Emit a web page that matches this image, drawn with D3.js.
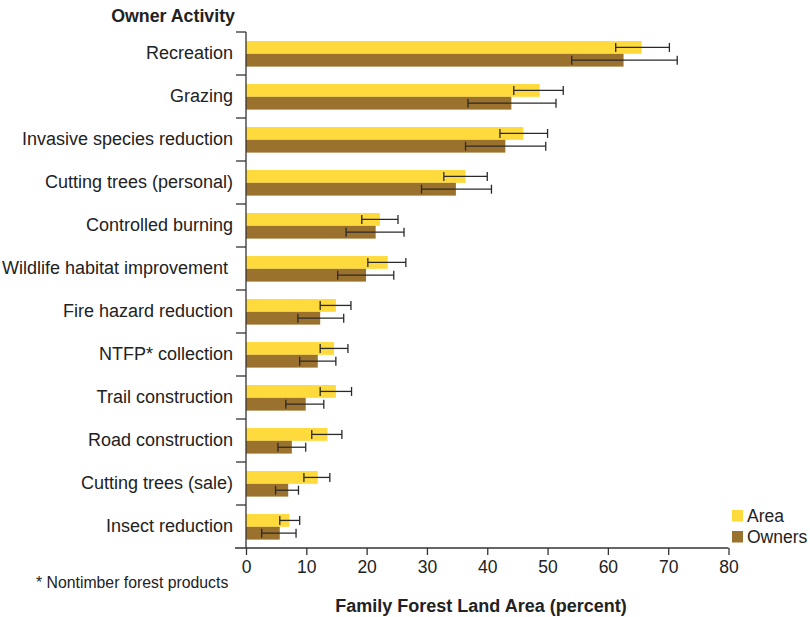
<!DOCTYPE html>
<html>
<head>
<meta charset="utf-8">
<script src="https://cdn.jsdelivr.net/npm/d3@7"></script>
<style>
  html, body { margin: 0; padding: 0; background: #fff; }
  svg { display: block; font-family: "Liberation Sans", Arial, Helvetica, sans-serif; }
</style>
</head>
<body>
<svg id="chart" width="810" height="617"></svg>
<script>
const categories = [
  "Recreation", "Grazing", "Invasive species reduction", "Cutting trees (personal)",
  "Controlled burning", "Wildlife habitat improvement ", "Fire hazard reduction",
  "NTFP* collection", "Trail construction", "Road construction",
  "Cutting trees (sale)", "Insect reduction"
];
const seriesNames = ["Area", "Owners"];
const areaValues   = [65.6, 48.7, 46.0, 36.4, 22.2, 23.5, 14.9, 14.6, 14.9, 13.5, 11.9, 7.2];
const areaLow      = [61.3, 44.4, 42.1, 32.8, 19.2, 20.2, 12.3, 12.3, 12.3, 10.9,  9.6, 5.6];
const areaHigh     = [70.2, 52.6, 50.0, 40.0, 25.2, 26.5, 17.4, 16.9, 17.5, 15.9, 13.9, 8.9];
const ownerValues  = [62.6, 44.0, 43.0, 34.8, 21.5, 19.9, 12.3, 11.9,  9.9,  7.6,  7.0, 5.6];
const ownerLow     = [54.0, 36.8, 36.4, 29.1, 16.6, 15.2,  8.6,  8.9,  6.6,  5.3,  4.9, 2.6];
const ownerHigh    = [71.5, 51.4, 49.7, 40.7, 26.2, 24.5, 16.2, 14.9, 12.9,  9.9,  8.7, 8.3];
const xTicks = [0, 10, 20, 30, 40, 50, 60, 70, 80];
const colors = ["#FEDA3D", "#9B722D"];

const rows = categories.map((c, i) => ({
  cat: c,
  vals: [
    { s: "Area", v: areaValues[i], lo: areaLow[i], hi: areaHigh[i] },
    { s: "Owners", v: ownerValues[i], lo: ownerLow[i], hi: ownerHigh[i] }
  ]
}));

const svg = d3.select("#chart");
const mLeft = 246, mRight = 728.5, mTop = 32, mBottom = 548;

const x = d3.scaleLinear().domain([0, 80]).range([mLeft, mRight]);
const y = d3.scaleBand().domain(categories).range([mTop, mBottom]).padding(0);
const bw = y.bandwidth();
const y1 = d3.scaleBand().domain(seriesNames).range([bw * 0.21, bw * 0.805]).padding(0);
const color = d3.scaleOrdinal().domain(seriesNames).range(colors);

// bars
const g = svg.append("g");
const groups = g.selectAll("g.cat").data(rows).join("g")
  .attr("class", "cat")
  .attr("transform", d => `translate(0,${y(d.cat)})`);

groups.selectAll("rect").data(d => d.vals).join("rect")
  .attr("x", x(0))
  .attr("y", d => y1(d.s))
  .attr("width", d => x(d.v) - x(0))
  .attr("height", y1.bandwidth())
  .attr("fill", d => color(d.s));

// error bars
const eb = groups.selectAll("g.err").data(d => d.vals).join("g").attr("class", "err")
  .attr("stroke", "#2a2a2a").attr("stroke-width", 1.3);
const capH = 4.5;
eb.append("line")
  .attr("x1", d => x(d.lo)).attr("x2", d => x(d.hi))
  .attr("y1", d => y1(d.s) + y1.bandwidth() / 2).attr("y2", d => y1(d.s) + y1.bandwidth() / 2);
eb.append("line")
  .attr("x1", d => x(d.lo)).attr("x2", d => x(d.lo))
  .attr("y1", d => y1(d.s) + y1.bandwidth() / 2 - capH).attr("y2", d => y1(d.s) + y1.bandwidth() / 2 + capH);
eb.append("line")
  .attr("x1", d => x(d.hi)).attr("x2", d => x(d.hi))
  .attr("y1", d => y1(d.s) + y1.bandwidth() / 2 - capH).attr("y2", d => y1(d.s) + y1.bandwidth() / 2 + capH);

// x axis
const xAxis = d3.axisBottom(x).tickValues(xTicks).tickSize(7).tickSizeOuter(0).tickPadding(6);
const xg = svg.append("g").attr("transform", `translate(0,${mBottom})`).call(xAxis);
xg.select(".domain").remove();
xg.append("line").attr("x1", mLeft - 11).attr("x2", mRight).attr("y1", 0).attr("y2", 0)
  .attr("stroke", "#333").attr("stroke-width", 1.3);
xg.selectAll(".tick line").attr("stroke", "#333").attr("stroke-width", 1.3);
xg.selectAll(".tick text").attr("fill", "#222").style("font-size", "17.5px")
  .style("font-family", "'Liberation Sans', Arial, sans-serif");

// y axis: labels at band centers, ticks at band boundaries
const yAxis = d3.axisLeft(y).tickSize(0).tickPadding(13);
const yg = svg.append("g").attr("transform", `translate(${mLeft},0)`).call(yAxis);
yg.select(".domain").remove();
yg.selectAll(".tick text").attr("fill", "#222").style("font-size", "18px")
  .style("white-space", "pre")
  .style("font-family", "'Liberation Sans', Arial, sans-serif");
yg.append("line").attr("x1", 0).attr("x2", 0).attr("y1", mTop).attr("y2", mBottom)
  .attr("stroke", "#333").attr("stroke-width", 1.3);
const boundaries = categories.map(c => y(c));
yg.selectAll("line.bt").data(boundaries).join("line").attr("class", "bt")
  .attr("x1", -10).attr("x2", 0).attr("y1", d => d).attr("y2", d => d)
  .attr("stroke", "#333").attr("stroke-width", 1.3);

// titles
svg.append("text").attr("x", 235).attr("y", 22).attr("text-anchor", "end")
  .attr("fill", "#222").style("font-size", "17.8px").style("font-weight", "bold")
  .text("Owner Activity");
svg.append("text").attr("x", 481).attr("y", 612).attr("text-anchor", "middle")
  .attr("fill", "#222").style("font-size", "18px").style("font-weight", "bold")
  .text("Family Forest Land Area (percent)");
svg.append("text").attr("x", 36).attr("y", 588)
  .attr("fill", "#222").style("font-size", "15.8px")
  .text("* Nontimber forest products");

// legend
const lg = svg.append("g").attr("transform", "translate(732,510)");
const li = lg.selectAll("g").data(seriesNames).join("g")
  .attr("transform", (d, i) => `translate(0,${i * 21})`);
li.append("rect").attr("width", 11).attr("height", 11.5).attr("fill", d => color(d));
li.append("text").attr("x", 15).attr("y", 11.5).attr("fill", "#222")
  .style("font-size", "17.5px").text(d => d);
</script>
</body>
</html>
